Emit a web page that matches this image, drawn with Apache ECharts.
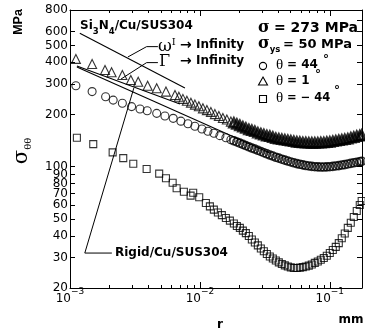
<!DOCTYPE html>
<html><head><meta charset="utf-8">
<script src="https://cdn.jsdelivr.net/npm/echarts@6/dist/echarts.min.js"></script>
<style>html,body{margin:0;padding:0;background:#fff}#c{width:365px;height:333px}</style>
</head><body><div id="c"></div>
<script>
// Hoop stress σθθ (MPa) against distance r (mm) from the interface corner, log-log.

// far-field nodes shared by all three rays (mm)
const rFar = [0.01826, 0.01926, 0.02031, 0.02142, 0.02259, 0.02382, 0.02512, 0.02649, 0.02794, 0.02946,
  0.03107, 0.03277, 0.03455, 0.03644, 0.03843, 0.04052, 0.04274, 0.04507, 0.04753, 0.05012,
  0.05286, 0.05574, 0.05878, 0.06199, 0.06537, 0.06894, 0.0727, 0.07667, 0.08085, 0.08527,
  0.08992, 0.09483, 0.1, 0.1055, 0.1112, 0.1173, 0.1237, 0.1304, 0.1376, 0.1451,
  0.153, 0.1613, 0.1701, 0.176];

// θ = 44°
const rT44 = [0.00111, 0.00148, 0.00188, 0.00215, 0.00253, 0.00298, 0.00346, 0.00393, 0.00465, 0.00538,
  0.00623, 0.00714, 0.00809, 0.00915, 0.01036, 0.01152, 0.01281, 0.01425, 0.01585, 0.01732];
const sT44 = [293, 271, 253, 242, 232, 222, 215, 210, 203, 196, 190, 183, 177, 171, 165, 160, 156, 151, 147, 143];
const sT44Far = [141.1, 138.9, 136.7, 134.5, 132.4, 130.3, 128.2, 126.4, 124.3, 122.4,
  120.4, 118.7, 116.8, 115.2, 113.4, 112, 110.5, 109.1, 107.8, 106.5,
  105.3, 104.2, 103.3, 102.4, 101.6, 101, 100.4, 100, 99.8, 99.6,
  99.6, 99.8, 100, 100.4, 101, 101.5, 102.2, 102.8, 103.7, 104.5,
  105.3, 106.2, 106.9, 107.5];

// θ = 1°
const rT1 = [0.00111, 0.00148, 0.00186, 0.00209, 0.00253, 0.00294, 0.00335, 0.00396, 0.00465, 0.00548,
  0.00643, 0.00689, 0.0074, 0.00794, 0.00853, 0.00915, 0.00982, 0.01055, 0.01132, 0.01215,
  0.01304, 0.014, 0.01503, 0.01613, 0.01732];
const sT1 = [418, 391, 361, 350, 338, 316, 309, 293, 283, 271, 259, 253, 246, 240, 234, 228, 223, 217, 212, 207,
  201, 196, 191, 187, 182];
const sT1Far = [179, 176, 173, 170, 167, 164, 162, 160, 157, 155,
  153, 151, 150, 148, 146, 145, 144, 143, 142, 141,
  140, 139, 138.5, 138, 137.6, 137.4, 137.2, 137.2, 137.4, 137.6,
  138, 138.5, 139, 140, 141, 142, 143, 144, 145, 147,
  148, 150, 151, 152];

// θ = −44°
const rTm44 = [0.00113, 0.00151, 0.00213, 0.00257, 0.00307, 0.00389, 0.00486, 0.00548, 0.00617, 0.00662,
  0.00753, 0.00848, 0.00888, 0.00988, 0.01112, 0.01194, 0.01281, 0.01376, 0.01476, 0.01585, 0.01702];
const sTm44 = [147, 135, 121, 112, 104, 97, 91.2, 85.8, 80.9, 75.1, 71.8, 68.1, 70.8, 66.7, 61.8, 59.1, 56.6,
  54.5, 52.6, 50.6, 48.9];
const sTm44Far = [47.1, 45.5, 44.4, 42.8, 41.4, 39.9, 38.1, 36.6, 35.2, 33.8,
  32.6, 31.4, 30.4, 29.6, 28.8, 28.1, 27.5, 27, 26.6, 26.3,
  26.1, 26.1, 26.2, 26.4, 26.6, 26.9, 27.3, 27.9, 28.4, 29.1,
  29.8, 30.7, 31.8, 33.1, 34.5, 36.3, 38.7, 41.2, 44.4, 47.5,
  51.3, 55.6, 60.2, 63.4];

// asymptotic singular-field lines
const omegaR = [0.00119, 0.00767], omegaS = [588, 284];
const gammaR = [0.00113, 0.00702], gammaS = [381, 230];
const rigidR = [0.00113, 0.0346], rigidS = [376, 120];

// leader lines from the annotations
const leadOmegaR = [0.00475, 0.00389, 0.00279], leadOmegaS = [492, 492, 429];
const leadGammaR = [0.00475, 0.00389, 0.00247], leadGammaS = [398, 398, 320];
const leadRigidR = [0.0021, 0.0013, 0.0031], leadRigidS = [31.8, 31.8, 284];

// axis ticks
const xDecades = [0.001, 0.01, 0.1];
const xMinor = [0.002, 0.003, 0.004, 0.005, 0.006, 0.007, 0.008, 0.009,
  0.02, 0.03, 0.04, 0.05, 0.06, 0.07, 0.08, 0.09];
const yTicks = [20, 30, 40, 50, 60, 70, 80, 90, 100, 200, 300, 400, 500, 600, 700, 800];
const rMin = 0.001, rMax = 0.177, sMin = 20, sMax = 800;

const lg = Math.log10;
const pts = (rs, ss) => rs.map((r, i) => [lg(r), lg(ss[i])]);
const SANS = '"DejaVu Sans", sans-serif';
const NARROW = '"Liberation Sans", Arial, sans-serif';
const SERIF = '"DejaVu Serif", serif';
const TIMES = '"Liberation Serif", serif';

const chart = echarts.init(document.getElementById('c'), null, {renderer: 'canvas'});

const black = {color: '#000', width: 1};
function xAx(pos, ticks, len, line, labels) {
  return {
    type: 'value', position: pos, min: lg(rMin), max: lg(rMax),
    axisLine: {show: line, onZero: false, lineStyle: black},
    splitLine: {show: false},
    axisTick: {show: true, inside: true, length: len, customValues: ticks.map(lg), lineStyle: black},
    axisLabel: labels ? {
      customValues: xDecades.map(lg), margin: -1, color: '#000',
      showMinLabel: true, showMaxLabel: true,
      formatter: v => `{b|10}{e|−${Math.round(-v)}}`,
      rich: {
        b: {fontFamily: SANS, fontSize: 12, lineHeight: 18, verticalAlign: 'bottom', color: '#000'},
        e: {fontFamily: SANS, fontSize: 9, lineHeight: 8, verticalAlign: 'top', color: '#000'}
      }
    } : {show: false}
  };
}
function yAx(pos, labels) {
  return {
    type: 'value', position: pos, min: lg(sMin), max: lg(sMax),
    axisLine: {show: true, onZero: false, lineStyle: black},
    splitLine: {show: false},
    axisTick: {show: true, inside: true, length: 5, customValues: yTicks.map(lg), lineStyle: black},
    axisLabel: labels ? {
      customValues: yTicks.map(lg), margin: 2, color: '#000',
      showMinLabel: true, showMaxLabel: true, hideOverlap: false,
      fontFamily: SANS, fontSize: 12,
      formatter: v => String(Math.round(Math.pow(10, v)))
    } : {show: false}
  };
}

function scatter(name, symbol, size, rs, ss, bw) {
  return {
    type: 'scatter', name, symbol, symbolSize: size, clip: false,
    data: pts(rs, ss), silent: true, animation: false,
    itemStyle: {color: 'rgba(0,0,0,0)', borderColor: '#000', borderWidth: bw}
  };
}
function straight(rs, ss) {
  return {type: 'line', data: pts(rs, ss), symbol: 'none', lineStyle: {color: '#000', width: 1.1}, silent: true, animation: false};
}
function leader(rs, ss, arrow) {
  return {
    type: 'lines', coordinateSystem: 'cartesian2d', polyline: true, silent: true, animation: false,
    symbol: ['none', arrow ? 'arrow' : 'none'], symbolSize: [0, 7],
    lineStyle: {color: '#000', width: 1, opacity: 1, curveness: 0},
    data: [{coords: pts(rs, ss)}]
  };
}

const T = (x, y, text, font, extra) => ({
  type: 'text', x, y, silent: true,
  style: Object.assign({text, fill: '#000', font: font || `bold 12px ${SANS}`, align: 'left', verticalAlign: 'middle'}, extra || {})
});
const B12 = `bold 12px ${SANS}`;

const graphics = [
  // axis names
  Object.assign(T(19, 22, 'MPa', `bold 12.5px ${NARROW}`, {align: 'center'}), {rotation: Math.PI / 2}),
  Object.assign(T(22, 151, '{g|σ}{s|θθ}', null, {
    align: 'center',
    rich: {
      g: {font: `21px ${SERIF}`, lineHeight: 22, verticalAlign: 'top'},
      s: {font: `10px ${SERIF}`, lineHeight: 10, verticalAlign: 'bottom'}
    }
  }), {rotation: Math.PI / 2}),
  T(220, 325, 'r', B12, {align: 'center'}),
  T(351, 320, 'mm', B12, {align: 'center'}),

  // curve annotations
  T(80, 28, '{n|Si}{s|3}{n|N}{s|4}{n|/Cu/SUS304}', null, {
    rich: {
      n: {font: B12, lineHeight: 16, verticalAlign: 'top'},
      s: {font: `bold 8.5px ${SANS}`, lineHeight: 8, verticalAlign: 'bottom'}
    }
  }),
  T(158, 46, '{g|ω}{i|I}', null, {
    rich: {
      g: {font: `17px ${SERIF}`, lineHeight: 18, verticalAlign: 'bottom'},
      i: {font: `10px ${SERIF}`, lineHeight: 8, verticalAlign: 'top'}
    }
  }),
  T(180, 45, '→', `bold 14px ${SANS}`),
  T(196, 45, 'Infinity', B12),
  T(159, 62, 'Γ', `16px ${SERIF}`),
  T(180, 61, '→', `bold 14px ${SANS}`),
  T(196, 61, 'Infinity', B12),
  T(115, 253, 'Rigid/Cu/SUS304', B12),

  // loading parameters
  T(258, 28, 'σ', `bold 16px ${SERIF}`),
  T(274, 28, '= 273 MPa', `bold 14px ${SANS}`),
  T(258, 45, '{g|σ}{s|ys}', null, {
    rich: {
      g: {font: `bold 16px ${SERIF}`, lineHeight: 18, verticalAlign: 'top'},
      s: {font: `bold 8.5px ${SANS}`, lineHeight: 10, verticalAlign: 'bottom'}
    }
  }),
  T(283, 45, '= 50 MPa', `bold 13px ${SANS}`),

  // θ legend
  {type: 'circle', shape: {cx: 263, cy: 66, r: 3.6}, style: {fill: 'none', stroke: '#000', lineWidth: 1.1}, silent: true},
  T(276, 65, 'θ', `15px ${TIMES}`),
  T(287, 65, '= 44', B12),
  T(323, 60, '°', B12),
  {type: 'polygon', shape: {points: [[263, 77], [267.5, 85], [258.5, 85]]}, style: {fill: 'none', stroke: '#000', lineWidth: 1.1}, silent: true},
  T(276, 81, 'θ', `15px ${TIMES}`),
  T(287, 81, '= 1', B12),
  T(315, 75, '°', B12),
  {type: 'rect', shape: {x: 259.5, y: 95.5, width: 7, height: 7}, style: {fill: 'none', stroke: '#000', lineWidth: 1.1}, silent: true},
  T(276, 98, 'θ', `15px ${TIMES}`),
  T(287, 98, '= − 44', `bold 11.5px ${SANS}`),
  T(334, 91, '°', B12)
];

chart.setOption({
  animation: false,
  backgroundColor: '#fff',
  grid: {left: 70, right: 3, top: 10, bottom: 45, containLabel: false},
  xAxis: [
    xAx('bottom', xDecades, 6, true, true),
    xAx('bottom', xMinor, 3, false, false),
    xAx('top', xDecades, 6, true, false),
    xAx('top', xMinor, 3, false, false)
  ],
  yAxis: [yAx('left', true), yAx('right', false)],
  series: [
    straight(omegaR, omegaS),
    straight(gammaR, gammaS),
    straight(rigidR, rigidS),
    leader(leadOmegaR, leadOmegaS, true),
    leader(leadGammaR, leadGammaS, false),
    leader(leadRigidR, leadRigidS, false),
    scatter('θ = 44°', 'circle', 8, rT44, sT44, 1.1),
    scatter('θ = 44°', 'circle', 8, rFar, sT44Far, 1.6),
    scatter('θ = 1°', 'triangle', 9, rT1, sT1, 1.1),
    scatter('θ = 1°', 'triangle', 9, rFar, sT1Far, 2.5),
    scatter('θ = −44°', 'rect', 7, rTm44.concat(rFar), sTm44.concat(sTm44Far), 1.1)
  ],
  graphic: graphics
});
</script>
</body></html>
